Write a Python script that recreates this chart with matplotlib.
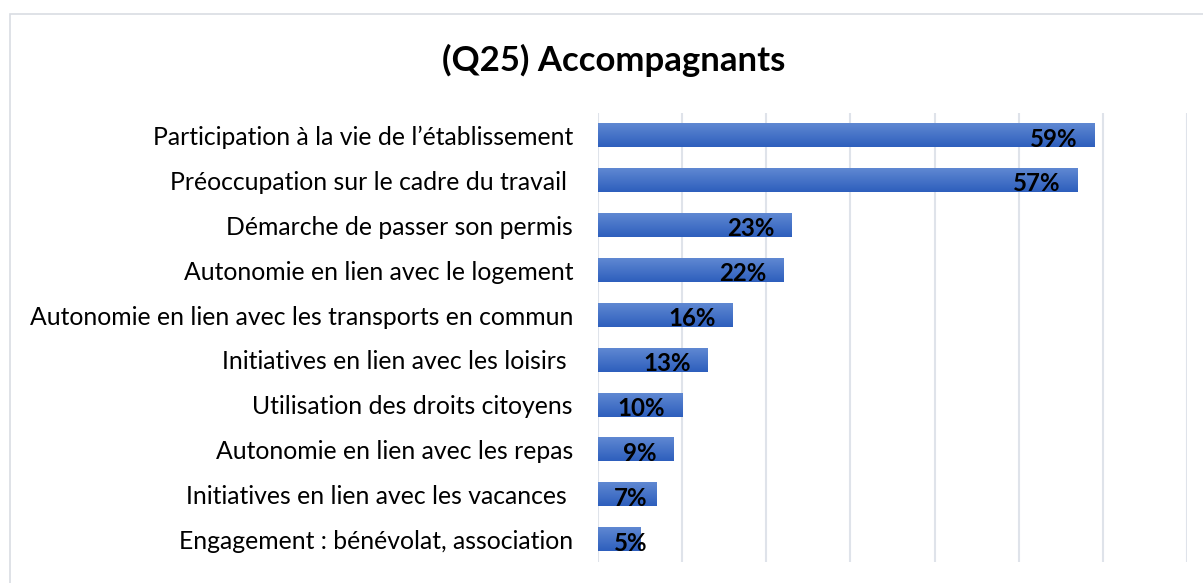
import numpy as np
import matplotlib.pyplot as plt
from matplotlib.colors import LinearSegmentedColormap

plt.rcParams['font.family'] = ['Lato', 'DejaVu Sans']

# answers, top to bottom as in the chart
categories = [
    "Participation à la vie de l’établissement",
    "Préoccupation sur le cadre du travail ",
    "Démarche de passer son permis",
    "Autonomie en lien avec le logement",
    "Autonomie en lien avec les transports en commun",
    "Initiatives en lien avec les loisirs ",
    "Utilisation des droits citoyens",
    "Autonomie en lien avec les repas",
    "Initiatives en lien avec les vacances ",
    "Engagement : bénévolat, association",
]
values = [59, 57, 23, 22, 16, 13, 10, 9, 7, 5]

fig = plt.figure(figsize=(12.03, 5.83), dpi=100)

# light frame like the excel chart area
frame = plt.Rectangle((10 / 1203, -0.1), 1.2, 1 - 14 / 583 + 0.1, transform=fig.transFigure,
                      fill=False, edgecolor='#d9dde3', linewidth=1.2)
fig.add_artist(frame)

ax = fig.add_axes([598 / 1203, 1 - 562 / 583, 589 / 1203, 449 / 583])

ypos = np.arange(len(categories))
h = 0.52
cmap = LinearSegmentedColormap.from_list('bar', ['#2e5fbd', '#5f88d2'])
grad = np.linspace(0, 1, 50).reshape(-1, 1)

bars = ax.barh(ypos, values, height=h, color='none')
for b in bars:
    x0, y0 = b.get_x(), b.get_y()
    ax.imshow(grad, cmap=cmap, aspect='auto', origin='lower',
              extent=[x0, x0 + b.get_width(), y0 + b.get_height(), y0], zorder=2)

ax.set_xlim(0, 70)
ax.set_ylim(len(categories) - 0.5, -0.5)
ax.set_xticks(np.arange(0, 71, 10))
ax.xaxis.grid(True, color='#dfe3ea', linewidth=1.5)
ax.set_axisbelow(True)
ax.tick_params(axis='x', length=0, labelbottom=False)
ax.tick_params(axis='y', length=0, pad=18, labelsize=17.8)
ax.set_yticks(ypos)
ax.set_yticklabels(categories, color='black')
for s in ax.spines.values():
    s.set_visible(False)

fig.text(614 / 1203, 1 - 60 / 583, "(Q25) Accompagnants", ha='center', va='center',
         fontsize=25, fontweight='bold', color='black')

# value labels at the inside end of each bar
fig.canvas.draw()
r = fig.canvas.get_renderer()
px = ax.transData.transform((1, 0))[0] - ax.transData.transform((0, 0))[0]
for y, v in zip(ypos, values):
    t = ax.text(v - 17 / px, y + 0.08, f"{v}%", ha='right', va='center',
                fontsize=17.3, fontweight='bold', color='black', zorder=3)
    w = t.get_window_extent(r).width / px
    if v - 17 / px - w < 16 / px:
        t.set_x(16 / px + w)

fig.savefig('out.png', dpi=100)
